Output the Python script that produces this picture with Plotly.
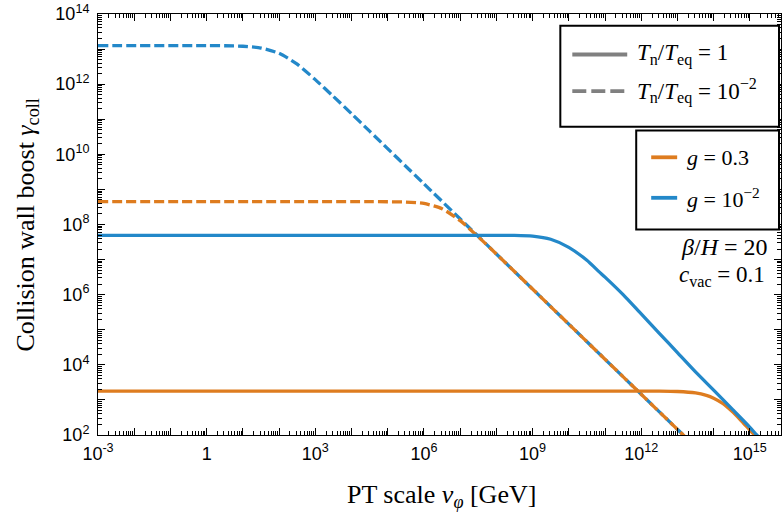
import plotly.graph_objects as go

# ---- data (log10 values) ----
# x = PT scale v_phi [GeV], y = collision wall boost gamma_coll
blue_dash_lx = [-3, 0, 0.5, 1.0, 1.5, 2.0, 2.5, 3.0, 3.5, 4.0, 4.5, 6.0, 8.0, 10.0, 12.0, 13.16, 13.3]
blue_dash_ly = [13.10, 13.099, 13.095, 13.081, 13.03, 12.88, 12.57, 12.13, 11.65, 11.16, 10.66, 9.16, 7.16, 5.16, 3.16, 2.0, 1.86]

orange_dash_lx = [-3, 4.5, 5.0, 5.5, 6.0, 6.5, 7.0, 7.5, 8.0, 8.5, 10.0, 12.0, 13.16, 13.3]
orange_dash_ly = [8.65, 8.65, 8.648, 8.641, 8.60, 8.45, 8.11, 7.65, 7.16, 6.66, 5.16, 3.16, 2.0, 1.86]

blue_solid_lx = [-3, 8.5, 9.0, 9.5, 10.0, 10.5, 10.84, 11.0, 11.5, 12.0, 12.5, 13.0, 13.5, 14.0, 14.5, 15.0, 15.19, 15.4]
blue_solid_ly = [7.69, 7.69, 7.67, 7.58, 7.35, 6.98, 6.65, 6.50, 6.00, 5.45, 4.90, 4.35, 3.80, 3.28, 2.75, 2.22, 2.00, 1.78]

orange_solid_lx = [-3, 12.5, 13.0, 13.5, 13.8, 14.0, 14.25, 14.5, 14.75, 15.0, 15.13, 15.3]
orange_solid_ly = [3.25, 3.25, 3.24, 3.20, 3.13, 3.05, 2.90, 2.68, 2.42, 2.14, 2.00, 1.82]

x_label_decades = [-3, 0, 3, 6, 9, 12, 15]
y_label_decades = [2, 4, 6, 8, 10, 12, 14]
x_range = [-3, 15.86]
y_range = [2, 14.0004]

ORANGE = "#DE7C1F"
BLUE = "#2388C9"
GRAY = "#808080"
LW = 3.3
DASH = "10px,4px"
LEG_DASH = "14px,5px"


def p10(v):
    return [10 ** t for t in v]


fig = go.Figure()

curves = [
    (blue_dash_lx, blue_dash_ly, BLUE, DASH),
    (orange_dash_lx, orange_dash_ly, ORANGE, DASH),
    (orange_solid_lx, orange_solid_ly, ORANGE, "solid"),
    (blue_solid_lx, blue_solid_ly, BLUE, "solid"),
]
for lx, ly, col, dash in curves:
    fig.add_trace(go.Scatter(x=p10(lx), y=p10(ly), mode="lines",
                             line=dict(color=col, width=LW, dash=dash, shape="spline", smoothing=0.6),
                             showlegend=False, hoverinfo="skip"))


def ticks_for(lo, hi, labeled):
    vals, texts, minors = [], [], []
    for k in range(lo, hi + 1):
        vals.append(10 ** k)
        texts.append(("1" if k == 0 else "10<sup>%d</sup>" % k) if k in labeled else "")
        if k < hi:
            for m in range(2, 10):
                minors.append(m * 10 ** k)
    return vals, texts, minors


xv, xt, xm = ticks_for(-3, 16, x_label_decades)
yv, yt, ym = ticks_for(2, 14, y_label_decades)

tickfont = dict(family="Liberation Sans, Arial, sans-serif", size=18, color="black")
serif = "Liberation Serif, Times New Roman, serif"

fig.update_xaxes(type="log", range=x_range, tickvals=xv, ticktext=xt,
                 ticks="inside", ticklen=7, tickwidth=1, tickcolor="black",
                 minor=dict(tickvals=xm, ticks="inside", ticklen=4, tickcolor="black", tickwidth=1),
                 showline=True, linecolor="black", linewidth=1, mirror="ticks",
                 showgrid=False, zeroline=False, tickfont=tickfont, ticklabelstandoff=2,
                 ticklabeloverflow="allow")
fig.update_yaxes(type="log", range=y_range, tickvals=yv, ticktext=yt,
                 ticks="inside", ticklen=7, tickwidth=1, tickcolor="black",
                 minor=dict(tickvals=ym, ticks="inside", ticklen=4, tickcolor="black", tickwidth=1),
                 showline=True, linecolor="black", linewidth=1, mirror="ticks",
                 showgrid=False, zeroline=False, tickfont=tickfont, ticklabelstandoff=4,
                 ticklabeloverflow="allow")


# ---- positions in paper coordinates from page pixels ----
def px_x(px):
    return (px - 98) / 684.0


def px_y(py):
    return (435 - py) / 426.0


shapes = []
annots = []

# axis titles
annots.append(dict(text="PT scale <i>v</i><sub><i>\u03c6</i></sub> [GeV]", x=px_x(442), y=px_y(497),
                   xref="paper", yref="paper", xanchor="center", yanchor="middle", showarrow=False,
                   font=dict(family=serif, size=26, color="black")))
annots.append(dict(text="Collision wall boost <i>\u03b3</i><sub>coll</sub>", x=px_x(26), y=px_y(222),
                   xref="paper", yref="paper", xanchor="center", yanchor="middle", showarrow=False,
                   textangle=-90, font=dict(family=serif, size=26, color="black")))

# legend boxes, line samples and labels
legend_boxes = [(561, 780, 21, 123), (637, 780, 127, 227)]
for x0, x1, y0, y1 in legend_boxes:
    shapes.append(dict(type="rect", xref="paper", yref="paper",
                       x0=px_x(x0), x1=px_x(x1), y0=px_y(y1), y1=px_y(y0),
                       line=dict(color="black", width=2), fillcolor="white", layer="above"))

legend_items = [
    # (line x0, line x1, y, colour, dash, text x, text, size)
    (573, 628, 50, GRAY, "solid", 636, "<i>T</i><sub>n</sub>/<i>T</i><sub>eq</sub> = 1", 23),
    (573, 628, 87, GRAY, LEG_DASH, 636, "<i>T</i><sub>n</sub>/<i>T</i><sub>eq</sub> = 10<sup>\u22122</sup>", 23),
    (652, 678, 154, ORANGE, "solid", 686, "<i>g</i> = 0.3", 22),
    (652, 678, 195, BLUE, "solid", 686, "<i>g</i> = 10<sup>\u22122</sup>", 22),
]
for lx0, lx1, ly, col, dash, tx, txt, fs in legend_items:
    shapes.append(dict(type="line", xref="paper", yref="paper",
                       x0=px_x(lx0), x1=px_x(lx1), y0=px_y(ly), y1=px_y(ly),
                       line=dict(color=col, width=LW + 0.5, dash=dash), layer="above"))
    annots.append(dict(text=txt, x=px_x(tx), y=px_y(ly), xref="paper", yref="paper",
                       xanchor="left", yanchor="middle", showarrow=False,
                       font=dict(family=serif, size=fs, color="black")))

annots.append(dict(text="<i>\u03b2</i>/<i>H</i> = 20", x=px_x(771), y=px_y(245),
                   xref="paper", yref="paper", xanchor="right", yanchor="middle", showarrow=False,
                   font=dict(family=serif, size=24, color="black")))
annots.append(dict(text="<i>c</i><sub>vac</sub> = 0.1", x=px_x(768), y=px_y(274),
                   xref="paper", yref="paper", xanchor="right", yanchor="middle", showarrow=False,
                   font=dict(family=serif, size=23, color="black")))

fig.update_layout(
    width=784, height=515,
    margin=dict(l=98, r=2, t=9, b=80),
    paper_bgcolor="white", plot_bgcolor="white",
    showlegend=False,
    shapes=shapes,
    annotations=annots,
)

fig.write_html("out.html", config={"displayModeBar": False},
               post_script="document.body.style.margin='0px';")
